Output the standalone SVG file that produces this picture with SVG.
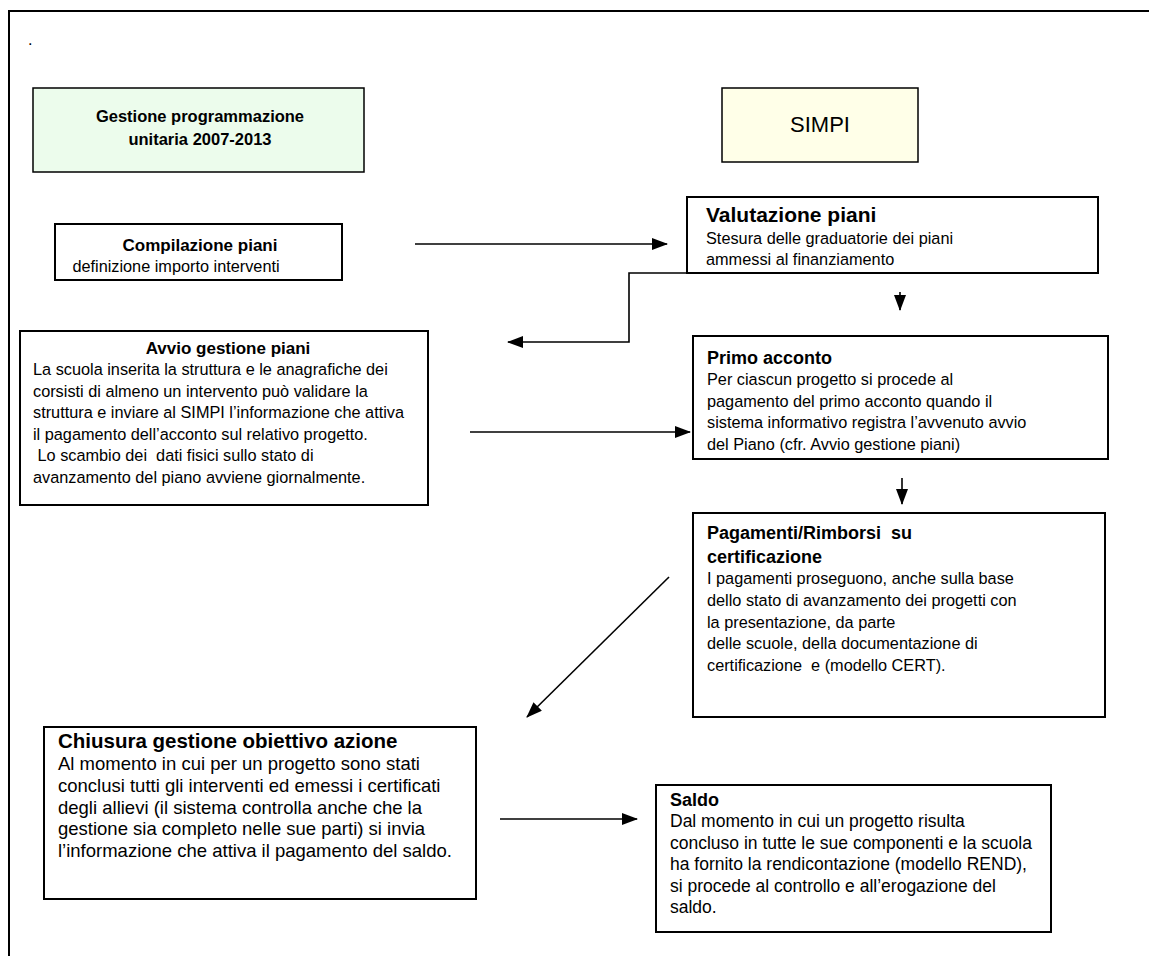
<svg xmlns="http://www.w3.org/2000/svg" width="1149" height="956" viewBox="0 0 1149 956">
<style>
text{font-family:"Liberation Sans",Arial,sans-serif;fill:#000;white-space:pre}
.b{font-weight:bold;font-size:18px}
.t{font-size:16.3px}
.box{fill:#fff;stroke:#000;stroke-width:2}
.ln{fill:none;stroke:#000;stroke-width:1.6}
</style>
<defs>
<marker id="ah" markerUnits="userSpaceOnUse" markerWidth="16" markerHeight="12" refX="15" refY="6" orient="auto">
<path d="M0,0 L16,6 L0,12 Z" fill="#000"/>
</marker>
</defs>
<path d="M9,956 V11 H1149" fill="none" stroke="#000" stroke-width="2"/>
<text x="28" y="45" class="t">.</text>
<g id="n-gestione">
<rect x="33" y="88" width="331" height="84" fill="#ecfcec" stroke="#000" stroke-width="1.5"/>
<text x="200" y="122" class="b" text-anchor="middle" style="font-size:16.5px">Gestione programmazione</text>
<text x="200" y="145" class="b" text-anchor="middle" style="font-size:16.5px">unitaria 2007-2013</text>
</g>
<g id="n-simpi">
<rect x="722" y="88" width="196" height="74" fill="#ffffe8" stroke="#000" stroke-width="1.5"/>
<text x="820" y="132" font-size="22" text-anchor="middle">SIMPI</text>
</g>
<g id="n-compilazione">
<rect x="55" y="224" width="287" height="56" class="box"/>
<text x="200" y="251" class="b" text-anchor="middle" style="font-size:17px">Compilazione piani</text>
<text x="176" y="272" class="t" text-anchor="middle">definizione importo interventi</text>
</g>
<g id="n-valutazione">
<rect x="687" y="197" width="411" height="76" class="box"/>
<text x="706" y="222" class="b" style="font-size:21px">Valutazione piani</text>
<text x="706" y="244" class="t">Stesura delle graduatorie dei piani</text>
<text x="706" y="265" class="t">ammessi al finanziamento</text>
</g>
<g id="n-avvio">
<rect x="20" y="331" width="408" height="174" class="box"/>
<text x="228" y="354" class="b" text-anchor="middle" style="font-size:17px">Avvio gestione piani</text>
<text x="33" y="375" class="t">La scuola inserita la struttura e le anagrafiche dei</text>
<text x="33" y="397" class="t">corsisti di almeno un intervento può validare la</text>
<text x="33" y="418" class="t">struttura e inviare al SIMPI l’informazione che attiva</text>
<text x="33" y="440" class="t">il pagamento dell’acconto sul relativo progetto.</text>
<text x="33" y="461" class="t"> Lo scambio dei  dati fisici sullo stato di</text>
<text x="33" y="483" class="t">avanzamento del piano avviene giornalmente.</text>
</g>
<g id="n-primo">
<rect x="693" y="336" width="415" height="123" class="box"/>
<text x="707" y="364" class="b">Primo acconto</text>
<text x="707" y="385" class="t">Per ciascun progetto si procede al</text>
<text x="707" y="407" class="t">pagamento del primo acconto quando il</text>
<text x="707" y="428" class="t">sistema informativo registra l’avvenuto avvio</text>
<text x="707" y="450" class="t">del Piano (cfr. Avvio gestione piani)</text>
</g>
<g id="n-pagamenti">
<rect x="693" y="513" width="412" height="204" class="box"/>
<text x="707" y="539" class="b">Pagamenti/Rimborsi  su</text>
<text x="707" y="563" class="b">certificazione</text>
<text x="707" y="584" class="t">I pagamenti proseguono, anche sulla base</text>
<text x="707" y="606" class="t">dello stato di avanzamento dei progetti con</text>
<text x="707" y="628" class="t">la presentazione, da parte</text>
<text x="707" y="649" class="t">delle scuole, della documentazione di</text>
<text x="707" y="671" class="t">certificazione  e (modello CERT).</text>
</g>
<g id="n-chiusura">
<rect x="44" y="727" width="432" height="172" class="box"/>
<text x="58" y="748" class="b" style="font-size:20.5px">Chiusura gestione obiettivo azione</text>
<text x="58" y="770" style="font-size:18.5px">Al momento in cui per un progetto sono stati</text>
<text x="58" y="792" style="font-size:18.5px">conclusi tutti gli interventi ed emessi i certificati</text>
<text x="58" y="814" style="font-size:18.5px">degli allievi (il sistema controlla anche che la</text>
<text x="58" y="835" style="font-size:18.5px">gestione sia completo nelle sue parti) si invia</text>
<text x="58" y="857" style="font-size:18.5px">l’informazione che attiva il pagamento del saldo.</text>
</g>
<g id="n-saldo">
<rect x="656" y="785" width="395" height="147" class="box"/>
<text x="670" y="806" class="b">Saldo</text>
<text x="670" y="827" style="font-size:17.5px">Dal momento in cui un progetto risulta</text>
<text x="670" y="849" style="font-size:17.5px">concluso in tutte le sue componenti e la scuola</text>
<text x="670" y="870" style="font-size:17.5px">ha fornito la rendicontazione (modello REND),</text>
<text x="670" y="892" style="font-size:17.5px">si procede al controllo e all’erogazione del</text>
<text x="670" y="913" style="font-size:17.5px">saldo.</text>
</g>
<g id="connectors">
<path class="ln" d="M415,244 H667" marker-end="url(#ah)"/>
<path class="ln" d="M687,273 H629 V342 H508" marker-end="url(#ah)"/>
<path class="ln" d="M900,292 V310" marker-end="url(#ah)"/>
<path class="ln" d="M470,432 H690" marker-end="url(#ah)"/>
<path class="ln" d="M902,478 V504" marker-end="url(#ah)"/>
<path class="ln" d="M669,577 L527,717" marker-end="url(#ah)"/>
<path class="ln" d="M500,819 H637" marker-end="url(#ah)"/>
</g>
</svg>
